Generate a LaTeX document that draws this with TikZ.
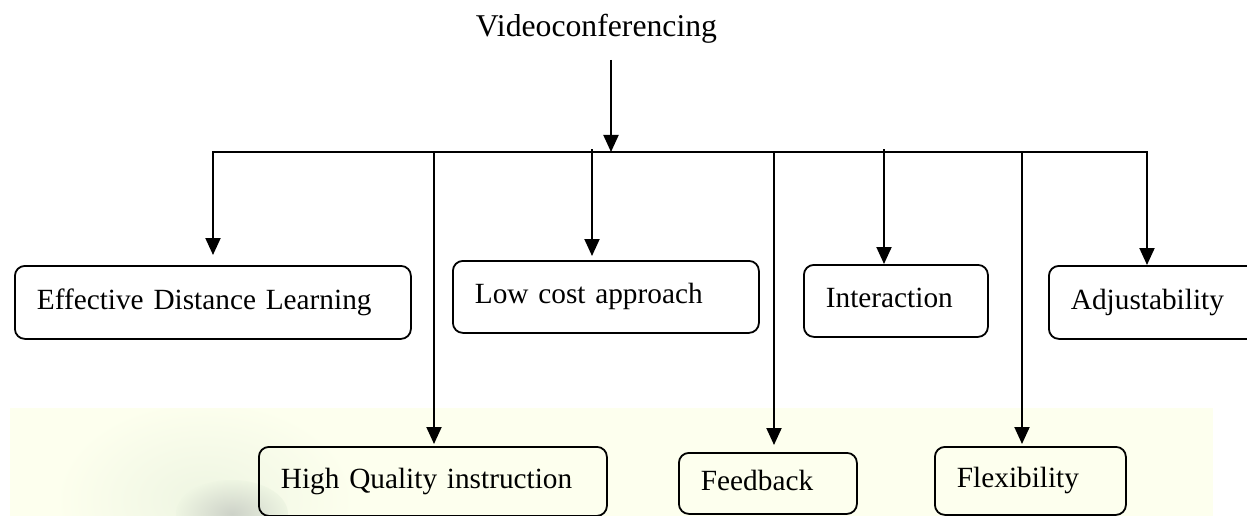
\documentclass[tikz,border=0pt]{standalone}
\usepackage{fontspec}
\setmainfont{Liberation Serif}
\usetikzlibrary{arrows.meta}
\definecolor{bgy}{RGB}{253,255,238}
\definecolor{wmark}{RGB}{205,210,200}
\definecolor{wgreen}{RGB}{238,245,226}
\begin{document}
\begin{tikzpicture}[x=1pt,y=-1pt,
  conn/.style={line width=2pt},
  arr/.style={conn,-{Triangle[length=17pt,width=15pt]}},
  dblarr/.style={conn,{Triangle[length=17pt,width=15pt]}-{Triangle[length=17pt,width=15pt]}},
  box/.style={draw, line width=1.8pt, rounded corners=10pt, inner xsep=22pt, inner ysep=0pt,
    align=left, text height=20pt, text depth=6.5pt,
    font=\fontsize{29.3}{34}\selectfont, anchor=north west},
  title/.style={font=\fontsize{31.7}{38}\selectfont, inner sep=0pt, anchor=base}]
\useasboundingbox (0,0) rectangle (1247,516);
\clip (0,0) rectangle (1247,516);
\fill[white] (0,0) rectangle (1247,516);
% pale yellow band
\fill[bgy] (10,408) rectangle (1213,520);
% faint watermark
\begin{scope}
\clip (10,408) rectangle (1213,520);
\shade[inner color=wgreen, outer color=bgy] (205,500) ellipse [x radius=150pt, y radius=100pt];
\shade[inner color=wmark, outer color=wgreen] (232,514) ellipse [x radius=56pt, y radius=34pt];
\end{scope}

% title
\node[title] (vc) at (596.5,37) {Videoconferencing};

% boxes
\node[box, text width=352pt, minimum height=73pt] (edl) at (14,265) {Effective Distance Learning};
\node[box, text width=262pt, minimum height=72pt] (lc) at (452,260) {Low cost approach};
\node[box, text width=140pt, minimum height=72pt] (int) at (803,264) {Interaction};
\node[box, text width=206pt, minimum height=73pt] (adj) at (1048,265) {Adjustability};
\node[box, text width=304pt, minimum height=69pt] (hq) at (258,446) {High Quality instruction};
\node[box, text width=134pt, minimum height=61pt] (fb) at (678,452) {Feedback};
\node[box, text width=147pt, minimum height=68pt] (flex) at (934,446) {Flexibility};

% connectors
\coordinate (vcs) at (611,60);
\coordinate (bl) at (213,152);
\coordinate (br) at (1147,152);
\draw[arr] (vcs) -- (vcs |- bl);
\draw[dblarr, shorten <=10pt] (bl |- edl.north) -- (bl) -- (br) -- (br |- adj.north);

\coordinate (b2) at (434,151);
\coordinate (b3) at (592,149);
\coordinate (b4) at (774,151);
\coordinate (b5) at (884,149);
\coordinate (b6) at (1022,151);
\draw[arr, shorten >=2pt] (b2) -- (b2 |- hq.north);
\draw[arr, shorten >=4pt] (b3) -- (b3 |- lc.north);
\draw[arr, shorten >=7pt] (b4) -- (b4 |- fb.north);
\draw[arr] (b5) -- (b5 |- int.north);
\draw[arr, shorten >=2pt] (b6) -- (b6 |- flex.north);
\end{tikzpicture}
\end{document}
